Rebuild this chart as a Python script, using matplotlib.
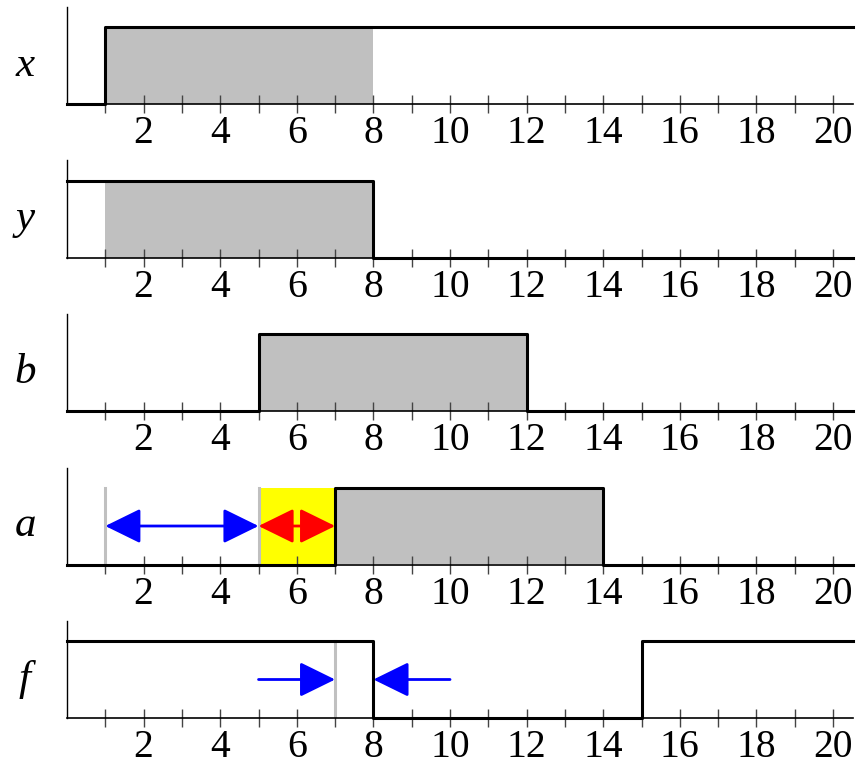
import matplotlib
matplotlib.use("Agg")
from matplotlib import pyplot as plt

# signal names and their step data (time of each change, level after it)
names = ["x", "y", "b", "a", "f"]
x_end = 20.52
x_t = [0, 1, x_end]
x_v = [0, 1, 1]
y_t = [0, 8, x_end]
y_v = [1, 0, 0]
b_t = [0, 5, 12, x_end]
b_v = [0, 1, 0, 0]
a_t = [0, 7, 14, x_end]
a_v = [0, 1, 0, 0]
f_t = [0, 8, 15, x_end]
f_v = [1, 0, 1, 1]
signals = [(x_t, x_v), (y_t, y_v), (b_t, b_v), (a_t, a_v), (f_t, f_v)]

# shaded intervals per panel
gray_spans = [(1, 8), (1, 8), (5, 12), (7, 14), None]
yellow_span = (5, 7)          # panel a
a_markers = [1, 5]            # grey guide lines in panel a
f_marker = 7                  # grey guide line in panel f
blue_span_a = (1, 5)
red_span_a = (5, 7)
f_arrow_right = (5, 7)
f_arrow_left = (10, 8)

ticks = list(range(1, 21))
tick_labels = [str(t) if t % 2 == 0 else "" for t in ticks]

plt.rcParams["font.family"] = ["Liberation Serif", "DejaVu Serif"]

fig = plt.figure(figsize=(8.66, 7.64), dpi=100)
W, H = 866, 764
left_px, right_px = 67, 853
axis_px = [104, 257.5, 411, 564.5, 718]
panel_h = 97

head = "head_length=0.55,head_width=0.27"

for i, name in enumerate(names):
    y0 = axis_px[i]
    ax = fig.add_axes([left_px / W, 1 - y0 / H, (right_px - left_px) / W, panel_h / H])
    ax.set_xlim(0, x_end)
    ax.set_ylim(0, 1.26)
    for s in ["top", "right"]:
        ax.spines[s].set_visible(False)
    ax.spines["left"].set_linewidth(1.0)
    ax.spines["bottom"].set_linewidth(1.2)
    ax.set_yticks([])
    ax.set_xticks(ticks)
    ax.set_xticklabels(tick_labels)
    ax.tick_params(axis="x", direction="inout", length=13, width=1.0,
                   color="#444444", labelsize=28.5, pad=1.5)

    span = gray_spans[i]
    if span is not None:
        ax.fill_between(span, 0, 1, color="#c0c0c0", lw=0, zorder=1)

    if name == "a":
        ax.fill_between(yellow_span, 0, 1, color="#ffff00", lw=0, zorder=1)
        for m in a_markers:
            ax.plot([m, m], [0, 1], color="#c0c0c0", lw=2.2, zorder=2)
        ax.annotate("", xy=(blue_span_a[1], 0.5), xytext=(blue_span_a[0], 0.5),
                    arrowprops=dict(arrowstyle="<|-|>," + head,
                                    mutation_scale=40, color="#0000ff", lw=2,
                                    shrinkA=0, shrinkB=0), zorder=4)
        ax.annotate("", xy=(red_span_a[1], 0.5), xytext=(red_span_a[0], 0.5),
                    arrowprops=dict(arrowstyle="<|-|>," + head,
                                    mutation_scale=40, color="#ff0000", lw=2,
                                    shrinkA=0, shrinkB=0), zorder=4)
    if name == "f":
        ax.plot([f_marker, f_marker], [0, 1], color="#c0c0c0", lw=2.2, zorder=2)
        for a0, a1 in [f_arrow_right, f_arrow_left]:
            ax.annotate("", xy=(a1, 0.5), xytext=(a0, 0.5),
                        arrowprops=dict(arrowstyle="-|>," + head,
                                        mutation_scale=40, color="#0000ff", lw=2,
                                        shrinkA=0, shrinkB=0), zorder=4)

    t, v = signals[i]
    ax.step(t, v, where="post", color="black", lw=2.2, zorder=3, clip_on=False)

    fig.text(25 / W, 1 - (y0 - 38.5) / H, name, fontsize=31, style="italic",
             ha="center", va="center")

fig.savefig("out.png", dpi=100)
